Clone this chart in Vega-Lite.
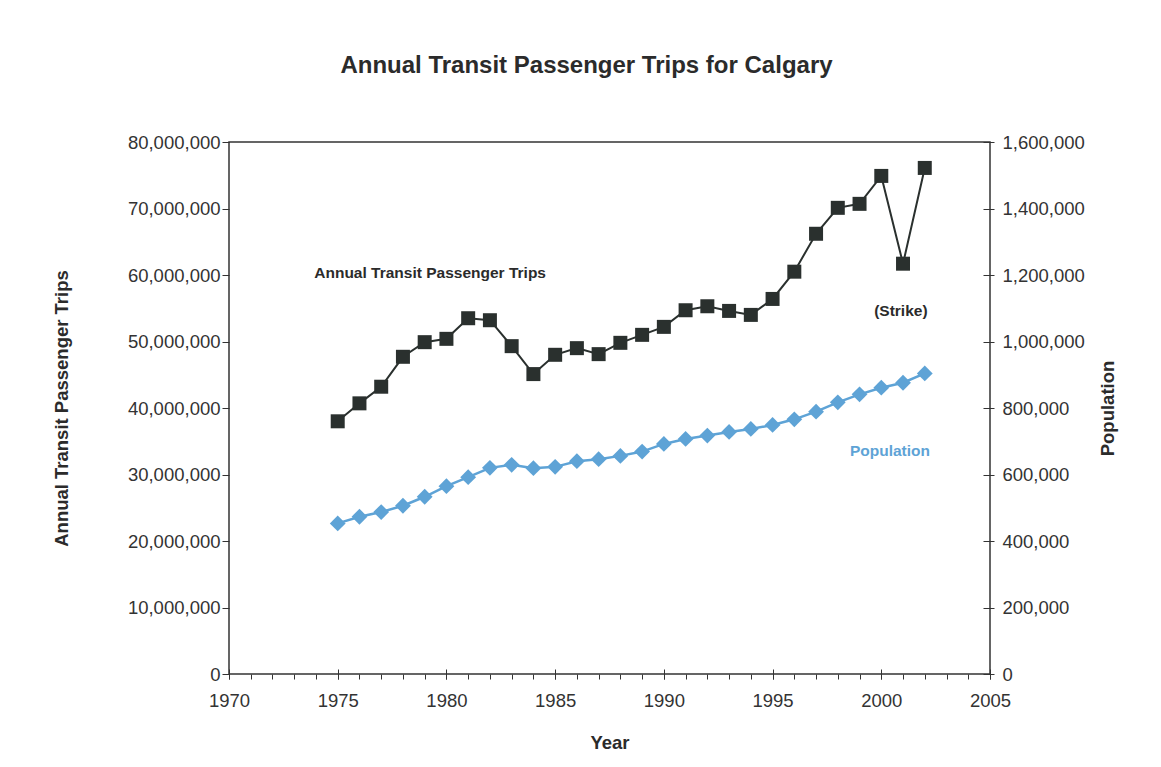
{
  "$schema": "https://vega.github.io/schema/vega-lite/v6.json",
  "width": 761,
  "height": 532,
  "autosize": {"type": "none"},
  "padding": {"left": 229, "top": 142, "right": 171, "bottom": 93},
  "background": "white",
  "config": {
    "font": "Liberation Sans",
    "view": {"stroke": "#333333", "strokeWidth": 1.5},
    "axis": {"labelColor": "#333333", "titleColor": "#2b2b2b", "tickColor": "#333333", "domainColor": "#333333", "grid": false, "labelFontSize": 18.5, "titleFontSize": 18.5, "titleFontWeight": "bold", "labelFont": "Liberation Sans", "titleFont": "Liberation Sans", "labelFlush": false}
  },
  "title": {"text": "Annual Transit Passenger Trips for Calgary", "fontSize": 24, "fontWeight": "bold", "color": "#2b2b2b", "anchor": "middle", "frame": "group", "dx": -23, "offset": 55, "font": "Liberation Sans"},
  "datasets": {
    "series": [
      {"year": 1975, "trips": 38000000, "population": 453000},
      {"year": 1976, "trips": 40700000, "population": 473000},
      {"year": 1977, "trips": 43200000, "population": 487000},
      {"year": 1978, "trips": 47700000, "population": 506000},
      {"year": 1979, "trips": 49900000, "population": 533000},
      {"year": 1980, "trips": 50400000, "population": 565000},
      {"year": 1981, "trips": 53500000, "population": 592000},
      {"year": 1982, "trips": 53200000, "population": 620000},
      {"year": 1983, "trips": 49300000, "population": 629000},
      {"year": 1984, "trips": 45100000, "population": 619000},
      {"year": 1985, "trips": 48000000, "population": 623000},
      {"year": 1986, "trips": 49000000, "population": 640000},
      {"year": 1987, "trips": 48100000, "population": 646000},
      {"year": 1988, "trips": 49800000, "population": 656000},
      {"year": 1989, "trips": 51000000, "population": 669000},
      {"year": 1990, "trips": 52200000, "population": 692000},
      {"year": 1991, "trips": 54700000, "population": 707000},
      {"year": 1992, "trips": 55300000, "population": 717000},
      {"year": 1993, "trips": 54600000, "population": 728000},
      {"year": 1994, "trips": 54000000, "population": 737000},
      {"year": 1995, "trips": 56400000, "population": 749000},
      {"year": 1996, "trips": 60500000, "population": 766000},
      {"year": 1997, "trips": 66200000, "population": 789000},
      {"year": 1998, "trips": 70100000, "population": 817000},
      {"year": 1999, "trips": 70700000, "population": 841000},
      {"year": 2000, "trips": 74900000, "population": 861000},
      {"year": 2001, "trips": 61700000, "population": 876000},
      {"year": 2002, "trips": 76100000, "population": 904000}
    ],
    "tripNotes": [
      {"x": 1979.25, "y": 60300000, "label": "Annual Transit Passenger Trips"},
      {"x": 2000.9, "y": 54600000, "label": "(Strike)"}
    ],
    "popNotes": [
      {"x": 2000.4, "y": 670700, "label": "Population"}
    ]
  },
  "layer": [
    {
      "data": {"name": "series"},
      "encoding": {
        "x": {"field": "year", "type": "quantitative", "scale": {"domain": [1970, 2005], "nice": false, "zero": false},
          "axis": {"orient": "bottom", "values": [1970, 1975, 1980, 1985, 1990, 1995, 2000, 2005], "format": "d", "offset": -5, "tickSize": 10, "labelPadding": 12, "domain": false, "title": "Year", "titlePadding": 24}},
        "y": {"field": "trips", "type": "quantitative", "scale": {"domain": [0, 80000000], "nice": false},
          "axis": {"orient": "left", "values": [0, 10000000, 20000000, 30000000, 40000000, 50000000, 60000000, 70000000, 80000000], "format": ",.0f", "tickSize": 7, "labelPadding": 2, "domain": false, "title": "Annual Transit Passenger Trips", "titlePadding": 56}}
      },
      "layer": [
        {"mark": {"type": "line", "color": "#2a302e", "strokeWidth": 2}},
        {"mark": {"type": "point", "shape": "square", "size": 196, "filled": true, "opacity": 1, "color": "#2a302e"}},
        {
          "data": {"name": "tripNotes"},
          "mark": {"type": "text", "fontSize": 15.5, "fontWeight": "bold", "color": "#2b2b2b", "align": "center", "baseline": "middle"},
          "encoding": {
            "x": {"field": "x", "type": "quantitative"},
            "y": {"field": "y", "type": "quantitative"},
            "text": {"field": "label"}
          }
        }
      ]
    },
    {
      "data": {"name": "series"},
      "encoding": {
        "x": {"field": "year", "type": "quantitative",
          "axis": {"orient": "bottom", "values": [1970, 1971, 1972, 1973, 1974, 1975, 1976, 1977, 1978, 1979, 1980, 1981, 1982, 1983, 1984, 1985, 1986, 1987, 1988, 1989, 1990, 1991, 1992, 1993, 1994, 1995, 1996, 1997, 1998, 1999, 2000, 2001, 2002, 2003, 2004, 2005], "labels": false, "tickSize": 5, "domain": false, "title": null}},
        "y": {"field": "population", "type": "quantitative", "scale": {"domain": [0, 1600000], "nice": false},
          "axis": {"orient": "right", "values": [0, 200000, 400000, 600000, 800000, 1000000, 1200000, 1400000, 1600000], "format": ",.0f", "offset": -7, "tickSize": 11, "labelPadding": 8, "domain": false, "title": "Population", "titleAngle": 270, "titlePadding": 33}}
      },
      "layer": [
        {"mark": {"type": "line", "color": "#5ea3d6", "strokeWidth": 2.5}},
        {"mark": {"type": "point", "shape": "diamond", "size": 250, "filled": true, "opacity": 1, "color": "#5ea3d6"}},
        {
          "data": {"name": "popNotes"},
          "mark": {"type": "text", "fontSize": 15.5, "fontWeight": "bold", "color": "#5ea3d6", "align": "center", "baseline": "middle"},
          "encoding": {
            "x": {"field": "x", "type": "quantitative"},
            "y": {"field": "y", "type": "quantitative"},
            "text": {"field": "label"}
          }
        }
      ]
    }
  ],
  "resolve": {"scale": {"y": "independent"}, "axis": {"x": "independent"}}
}
